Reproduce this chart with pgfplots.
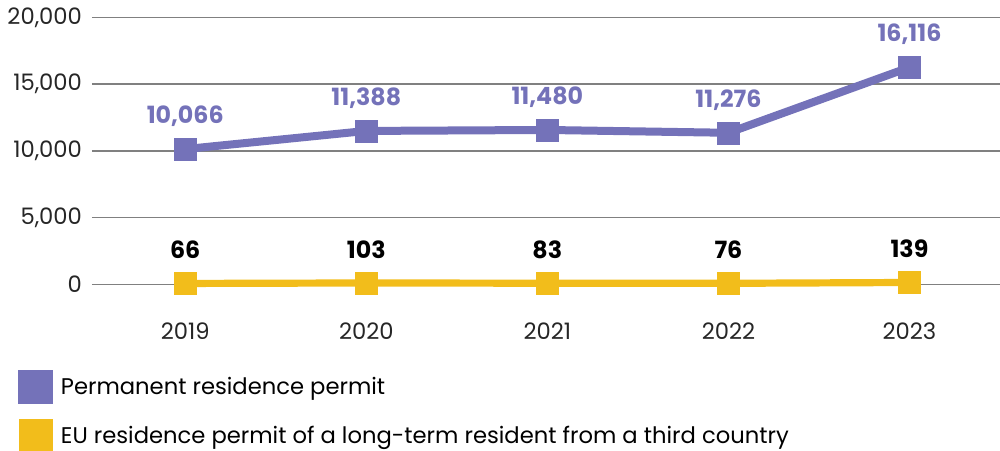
\documentclass[border=0pt]{standalone}
\usepackage{pgfplots}
\pgfplotsset{compat=1.18}
\usepackage{pgfplotstable}
\usepackage{fontspec}
\setmainfont{Poppins}
\definecolor{perm}{HTML}{7472B9}
\definecolor{eu}{HTML}{F2BD1B}
\definecolor{gridc}{HTML}{808080}
\pgfplotstableread{
x eu perm
0 66 10066
1 103 11388
2 83 11480
3 76 11276
4 139 16116
}\data
\begin{document}
\begin{tikzpicture}
\begin{axis}[
  scale only axis, width=681pt, height=200.25pt,
  xmin=-0.515, xmax=4.5, ymin=0, ymax=20000,
  stack plots=y,
  xtick={0,1,2,3,4}, xticklabels={2019,2020,2021,2022,2023},
  ytick={0,5000,10000,15000,20000},
  scaled y ticks=false,
  /pgf/number format/assume math mode=true,
  /pgf/number format/1000 sep={,},
  ymajorgrids, grid style={gridc, line width=1.1pt},
  axis line style={draw=none}, major tick length=0pt,
  tick label style={font=\fontsize{17}{20}\selectfont, text=black!85},
  yticklabel style={xshift=-4pt},
  xticklabel style={yshift=-25pt},
  clip=false,
  reverse legend,
  legend style={at={(rel axis cs:-0.0815,-0.318)}, anchor=north west, draw=none, fill=none,
    font=\fontsize{17}{20}\selectfont, row sep=11pt, inner sep=0pt,
    nodes={inner xsep=6pt, inner ysep=0pt}},
  legend cell align=left,
  nodes near coords,
  point meta=explicit,
]
\coordinate (bl) at (rel axis cs:0,0);
\coordinate (tr) at (rel axis cs:1,1);
\addplot[color=eu, line width=5.4pt, mark=square*, mark size=8.2pt,
  mark options={solid, line width=0.3pt},
  nodes near coords style={anchor=base, yshift=18.4pt, text=black, font=\bfseries\fontsize{17.8}{20}\selectfont},
  legend image code/.code={\fill[eu] (0pt,-10pt) rectangle (20pt,10pt);}]
  table[x=x, y=eu, meta=eu] {\data};
\addlegendentry{EU residence permit of a long-term resident from a third country}
\addplot[color=perm, line width=6pt, mark=square*, mark size=8.2pt,
  mark options={solid, line width=0.3pt},
  nodes near coords style={anchor=base, yshift=19.3pt, text=perm, font=\bfseries\fontsize{17.8}{20}\selectfont},
  legend image code/.code={\fill[perm] (0pt,-10pt) rectangle (20pt,10pt);}]
  table[x=x, y=perm, meta=perm] {\data};
\addlegendentry{Permanent residence permit}
\end{axis}
\pgfresetboundingbox
\path ([xshift=-69pt,yshift=-124.5pt]bl) rectangle ([yshift=13pt]tr);
\end{tikzpicture}
\end{document}
